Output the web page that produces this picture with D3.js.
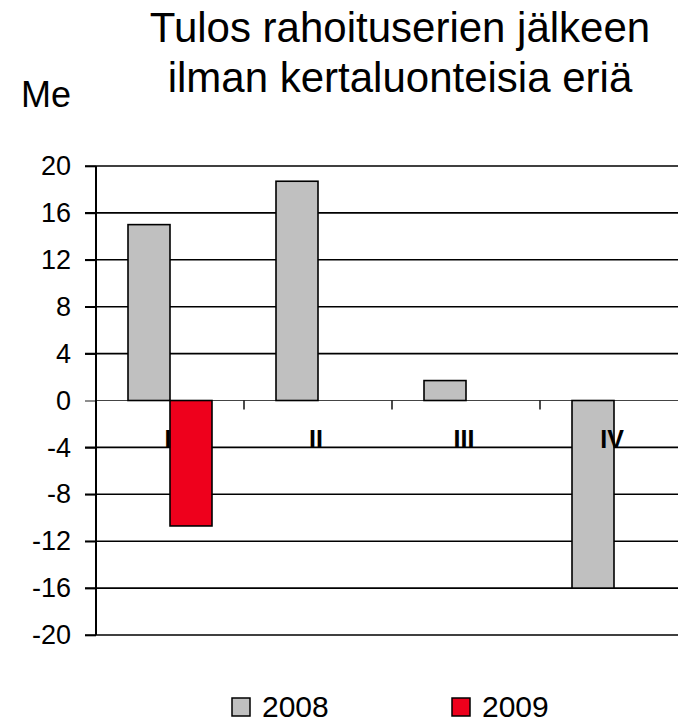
<!DOCTYPE html>
<html><head><meta charset="utf-8">
<script src="https://cdn.jsdelivr.net/npm/d3@7"></script>
<style>body{margin:0;background:#fff}svg{display:block;font-family:"Liberation Sans",Arial,sans-serif}</style>
</head><body><svg id="c" width="678" height="722"></svg>
<script>
const categories = ["I", "II", "III", "IV"];
const series = ["2008", "2009"];
const values2008 = [15.0, 18.7, 1.7, -16.0];
const values2009 = [-10.7, null, null, null];
const yTicks = [20, 16, 12, 8, 4, 0, -4, -8, -12, -16, -20];
const colors = ["#c0c0c0", "#ee001c"];
const titleLines = ["Tulos rahoituserien jälkeen", "ilman kertaluonteisia eriä"];
const unitLabel = "Me";

(function () {
const svg = d3.select("#c");
const pLeft = 96, pRight = 688, pTop = 166, pBottom = 635;
const y = d3.scaleLinear().domain([-20, 20]).range([pBottom, pTop]);
const x0 = d3.scaleBand().domain(categories).range([pLeft, pRight]).padding(0);
const x1 = d3.scaleBand().domain(series).range([0, x0.bandwidth()]).paddingInner(0).paddingOuter(0.762);

// gridlines
svg.append("g").selectAll("line").data(yTicks.filter(v => v !== 0)).join("line")
  .attr("x1", pLeft - 11).attr("x2", pRight).attr("y1", d => y(d)).attr("y2", d => y(d))
  .attr("stroke", "#000").attr("stroke-width", 1.6);

// y axis labels via d3 axis
const ya = svg.append("g").attr("transform", `translate(${pLeft},0)`)
  .call(d3.axisLeft(y).tickValues(yTicks).tickSize(11).tickPadding(14).tickFormat(d => String(d)));
ya.select(".domain").remove();
ya.selectAll(".tick line").attr("stroke", "#000").attr("stroke-width", 1.6);
ya.selectAll(".tick text").attr("font-size", 27).attr("fill", "#000")
  .attr("font-family", "'Liberation Sans', Arial, sans-serif");
ya.selectAll(".tick").filter(d => d === 0).select("line").attr("stroke", "#444").attr("stroke-width", 1.2);

// zero line (category axis)
svg.append("line").attr("x1", pLeft).attr("x2", pRight).attr("y1", y(0)).attr("y2", y(0))
  .attr("stroke", "#444").attr("stroke-width", 1.2);
// category boundary ticks
svg.append("g").selectAll("line").data(categories.slice(1)).join("line")
  .attr("x1", d => x0(d)).attr("x2", d => x0(d)).attr("y1", y(0)).attr("y2", y(0) + 9)
  .attr("stroke", "#000").attr("stroke-width", 1.4);

// bars
const barData = [];
categories.forEach((c, i) => {
  [values2008, values2009].forEach((arr, s) => {
    if (arr[i] !== null) barData.push({ c, s: series[s], v: arr[i], color: colors[s] });
  });
});
svg.append("g").selectAll("rect").data(barData).join("rect")
  .attr("x", d => x0(d.c) + x1(d.s)).attr("width", x1.bandwidth())
  .attr("y", d => y(Math.max(0, d.v))).attr("height", d => Math.abs(y(d.v) - y(0)))
  .attr("fill", d => d.color).attr("stroke", "#000").attr("stroke-width", 1.6);

// category labels
svg.append("g").selectAll("text").data(categories).join("text")
  .attr("x", d => x0(d) + x0.bandwidth() / 2 - 2).attr("y", 448)
  .attr("text-anchor", "middle").attr("font-weight", "bold").attr("font-size", 25)
  .text(d => d);

// y axis line
svg.append("line").attr("x1", pLeft).attr("x2", pLeft).attr("y1", pTop).attr("y2", pBottom)
  .attr("stroke", "#000").attr("stroke-width", 2);

// title
svg.append("g").selectAll("text").data(titleLines).join("text")
  .attr("x", 400).attr("y", (d, i) => 42 + i * 50).attr("text-anchor", "middle")
  .attr("font-size", 42).text(d => d);
svg.append("text").attr("x", 21).attr("y", 107).attr("font-size", 36).text(unitLabel);

// legend
const legX = [232, 452];
const lg = svg.append("g").selectAll("g").data(series).join("g")
  .attr("transform", (d, i) => `translate(${legX[i]},698)`);
lg.append("rect").attr("width", 18).attr("height", 18)
  .attr("fill", (d, i) => colors[i]).attr("stroke", "#000").attr("stroke-width", 1.5);
lg.append("text").attr("x", 30).attr("y", 19).attr("font-size", 30).text(d => d);
})();
</script></body></html>
